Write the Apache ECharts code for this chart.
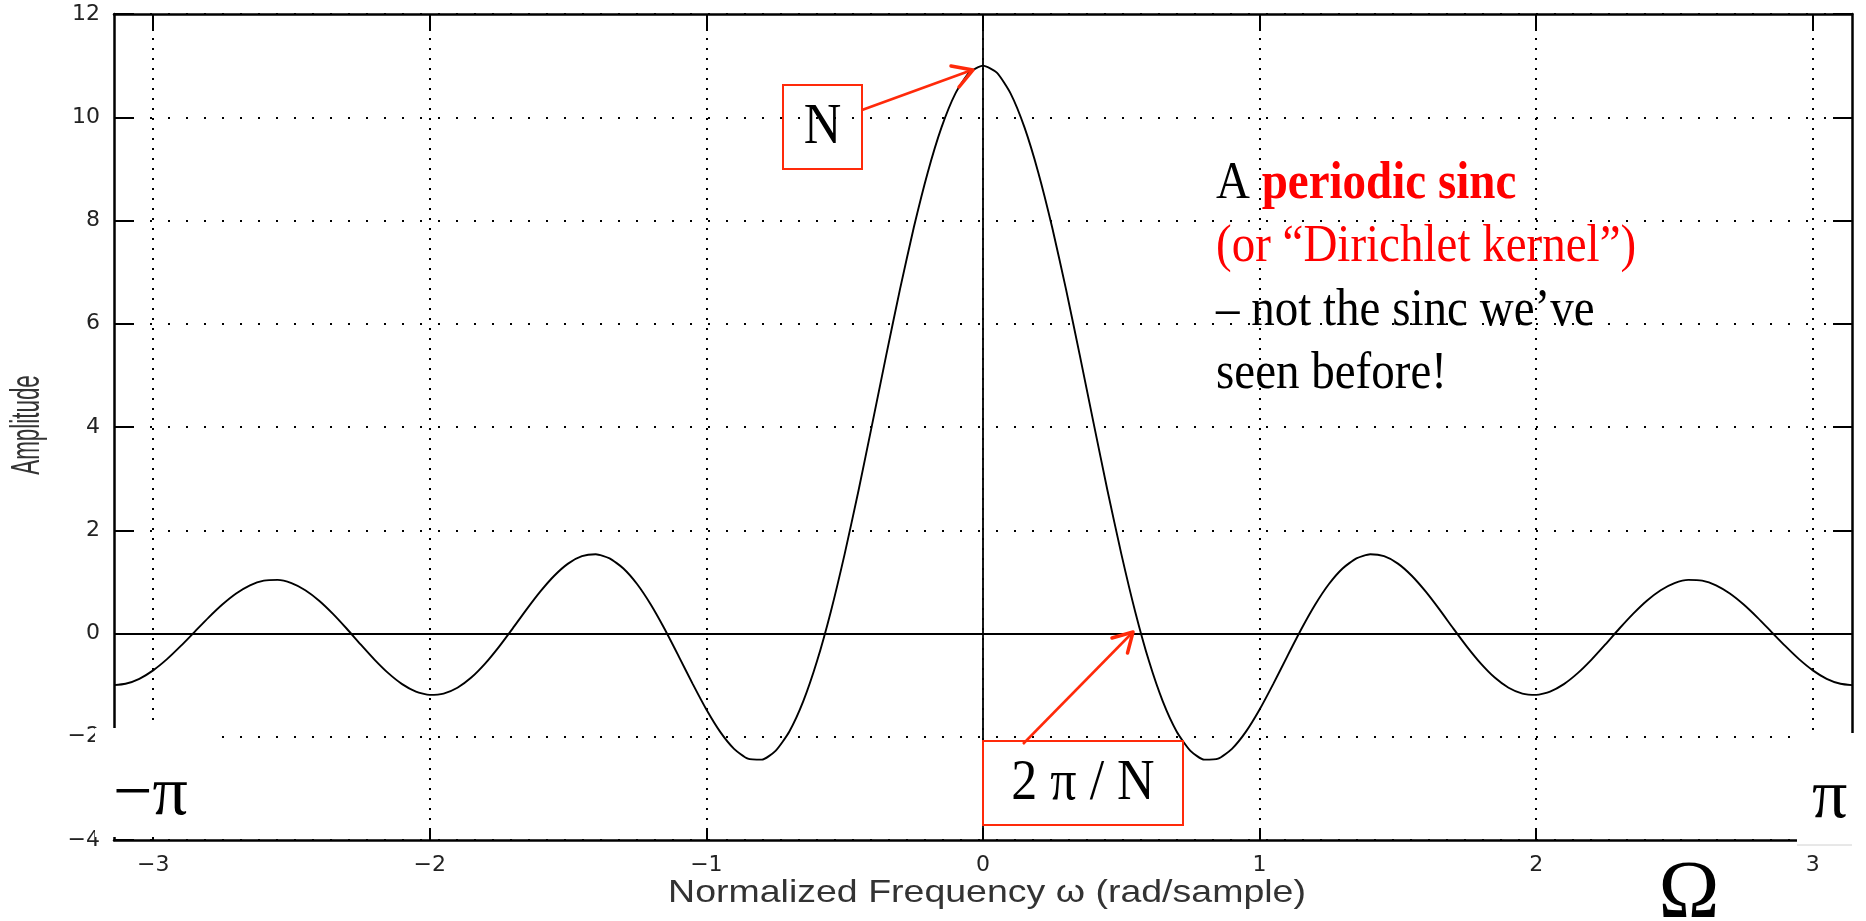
<!DOCTYPE html>
<html>
<head>
<meta charset="utf-8">
<script src="https://cdn.jsdelivr.net/npm/echarts@6/dist/echarts.min.js"></script>
<style>
html,body{margin:0;padding:0;background:#fff;}
#chart{width:1866px;height:921px;}
</style>
</head>
<body>
<div id="chart"></div>
<script>
// Normalized frequency (rad/sample)
const omega = [
  -3.1416,-3.10,-3.05,-3.00,-2.95,-2.90,-2.85,-2.80,-2.75,-2.70,-2.65,-2.60,-2.55,-2.50,-2.45,-2.40,-2.35,-2.30,-2.25,-2.20,
  -2.15,-2.10,-2.05,-2.00,-1.95,-1.90,-1.85,-1.80,-1.75,-1.70,-1.65,-1.60,-1.55,-1.50,-1.45,-1.40,-1.35,-1.30,-1.25,-1.20,
  -1.15,-1.10,-1.05,-1.00,-0.95,-0.90,-0.85,-0.80,-0.75,-0.70,-0.65,-0.60,-0.55,-0.50,-0.45,-0.40,-0.35,-0.30,-0.25,-0.20,
  -0.15,-0.10,-0.05,0.00,
  0.05,0.10,0.15,0.20,0.25,0.30,0.35,0.40,0.45,0.50,0.55,0.60,0.65,0.70,0.75,0.80,0.85,0.90,0.95,1.00,
  1.05,1.10,1.15,1.20,1.25,1.30,1.35,1.40,1.45,1.50,1.55,1.60,1.65,1.70,1.75,1.80,1.85,1.90,1.95,2.00,
  2.05,2.10,2.15,2.20,2.25,2.30,2.35,2.40,2.45,2.50,2.55,2.60,2.65,2.70,2.75,2.80,2.85,2.90,2.95,3.00,
  3.05,3.10,3.1416
];
// Amplitude values
const amplitude = [
  -1.000,-0.974,-0.877,-0.714,-0.497,-0.241,0.033,0.308,0.561,0.775,0.934,1.024,1.039,0.976,0.838,0.635,0.380,0.092,-0.211,-0.505,
  -0.768,-0.980,-1.125,-1.188,-1.164,-1.051,-0.854,-0.584,-0.259,0.099,0.467,0.815,1.119,1.354,1.497,1.534,1.455,1.260,0.954,0.552,
  0.077,-0.442,-0.971,-1.472,-1.906,-2.234,-2.424,-2.444,-2.273,-1.897,-1.315,-0.534,0.428,1.543,2.771,4.070,5.387,6.671,7.868,8.927,
  9.803,10.458,10.863,11.000,
  10.863,10.458,9.803,8.927,7.868,6.671,5.387,4.070,2.771,1.543,0.428,-0.534,-1.315,-1.897,-2.273,-2.444,-2.424,-2.234,-1.906,-1.472,
  -0.971,-0.442,0.077,0.552,0.954,1.260,1.455,1.534,1.497,1.354,1.119,0.815,0.467,0.099,-0.259,-0.584,-0.854,-1.051,-1.164,-1.188,
  -1.125,-0.980,-0.768,-0.505,-0.211,0.092,0.380,0.635,0.838,0.976,1.039,1.024,0.934,0.775,0.561,0.308,0.033,-0.241,-0.497,-0.714,
  -0.877,-0.974,-1.000
];
const xTicks = [-3, -2, -1, 0, 1, 2, 3];
const yTicks = [-4, -2, 0, 2, 4, 6, 8, 10, 12];
const xRange = [-3.1416, 3.1416];
const yRange = [-4, 12];

const minus = v => String(v).replace('-', '\u2212');
const tickFont = {fontFamily: 'DejaVu Sans', fontSize: 22, color: '#222'};
const red = '#ff2a0a';

const chart = echarts.init(document.getElementById('chart'), null, {renderer: 'canvas'});

const dotV = {type: [2, 8], width: 2, color: '#000'};
const solid = {type: 'solid', width: 1.8, color: '#000'};

const option = {
  animation: false,
  backgroundColor: '#fff',
  grid: {left: 114, right: 14, top: 14, bottom: 81, outerBoundsMode: 'none', containLabel: false},
  xAxis: [
    {
      type: 'value', position: 'bottom', min: xRange[0], max: xRange[1],
      axisLine: {show: true, onZero: false, lineStyle: {color: '#000', width: 2.5}},
      axisTick: {show: true, inside: true, length: 12, customValues: xTicks, lineStyle: {color: '#000', width: 2}},
      axisLabel: {show: true, customValues: xTicks, margin: 14, formatter: minus, ...tickFont},
      splitLine: {show: false}
    },
    {
      type: 'value', position: 'top', min: xRange[0], max: xRange[1],
      axisLine: {show: true, onZero: false, lineStyle: {color: '#000', width: 2.5}},
      axisTick: {show: true, inside: true, length: 17, customValues: xTicks, lineStyle: {color: '#000', width: 2}},
      axisLabel: {show: false},
      splitLine: {show: false}
    }
  ],
  yAxis: [
    {
      type: 'value', position: 'left', min: yRange[0], max: yRange[1], interval: 2,
      axisLine: {show: true, onZero: false, lineStyle: {color: '#000', width: 2.5}},
      axisTick: {show: true, inside: true, length: 20, lineStyle: {color: '#000', width: 2}},
      axisLabel: {show: true, margin: 14, formatter: minus, ...tickFont},
      splitLine: {show: true, lineStyle: {color: '#000', width: 2, type: [2, 16]}}
    },
    {
      type: 'value', position: 'right', min: yRange[0], max: yRange[1], interval: 2,
      axisLine: {show: true, onZero: false, lineStyle: {color: '#000', width: 2.5}},
      axisTick: {show: true, inside: true, length: 19, lineStyle: {color: '#000', width: 2}},
      axisLabel: {show: false},
      splitLine: {show: false}
    }
  ],
  series: [
    {
      name: 'grid',
      type: 'line',
      data: [],
      xAxisIndex: 0, yAxisIndex: 0,
      z: 1,
      markLine: {
        silent: true, symbol: 'none', animation: false,
        label: {show: false},
        data: xTicks.map(v => ({xAxis: v, lineStyle: dotV}))
          .concat([{xAxis: 0, lineStyle: solid}, {yAxis: 0, lineStyle: solid}])
      }
    },
    {
      name: 'Amplitude',
      type: 'line',
      xAxisIndex: 0, yAxisIndex: 0,
      z: 5,
      data: omega.map((w, i) => [w, amplitude[i]]),
      showSymbol: false,
      smooth: 0.2,
      lineStyle: {color: '#000', width: 1.9}
    }
  ],
  graphic: [
    // white patches from the slide
    {type: 'rect', z: 100, shape: {x: 95, y: 728, width: 122, height: 109}, style: {fill: '#fff'}},
    {type: 'rect', z: 100, shape: {x: 1797, y: 733, width: 69, height: 110}, style: {fill: '#fff'}},
    {type: 'line', z: 100, shape: {x1: 1797, y1: 845, x2: 1852, y2: 845}, style: {stroke: '#d0d0d0', lineWidth: 1}},
    {type: 'text', z: 101, x: 113, y: 796, style: {text: '\u2212\u03c0', font: '70px "Liberation Serif"', fill: '#000', align: 'left', verticalAlign: 'middle'}},
    {type: 'text', z: 101, x: 1812, y: 799, style: {text: '\u03c0', font: '70px "Liberation Serif"', fill: '#000', align: 'left', verticalAlign: 'middle'}},
    {type: 'text', z: 101, x: 1689, y: 895, style: {text: '\u03a9', font: '82px "Liberation Serif"', fill: '#000', align: 'center', verticalAlign: 'middle'}},
    // axis titles
    {type: 'text', z: 101, x: 28, y: 425, rotation: Math.PI / 2, scaleX: 0.56, scaleY: 1,
      style: {text: 'Amplitude', font: '40px "Liberation Sans"', fill: '#333', align: 'center', verticalAlign: 'middle'}},
    {type: 'text', z: 101, x: 987, y: 893, scaleX: 1.25, scaleY: 1.05,
      style: {text: 'Normalized Frequency \u03c9 (rad/sample)', font: '30px "Liberation Sans"', fill: '#333', align: 'center', verticalAlign: 'middle'}},
    // N annotation
    {type: 'rect', z: 101, shape: {x: 783, y: 85, width: 79, height: 84}, style: {fill: 'none', stroke: red, lineWidth: 2}},
    {type: 'text', z: 102, x: 822.5, y: 128, scaleY: 1.08,
      style: {text: 'N', font: '52px "Liberation Serif"', fill: '#000', align: 'center', verticalAlign: 'middle'}},
    {type: 'line', z: 101, shape: {x1: 862, y1: 110, x2: 972, y2: 70}, style: {stroke: red, lineWidth: 2.5}},
    {type: 'polyline', z: 101, shape: {points: [[951, 66], [973, 70], [959, 87]]}, style: {stroke: red, lineWidth: 3.5, fill: 'none', lineJoin: 'round', lineCap: 'round'}},
    // 2pi/N annotation
    {type: 'rect', z: 101, shape: {x: 983, y: 741, width: 200, height: 84}, style: {fill: 'none', stroke: red, lineWidth: 2}},
    {type: 'text', z: 102, x: 1083, y: 784, scaleY: 1.08,
      style: {text: '2 \u03c0 / N', font: '52px "Liberation Serif"', fill: '#000', align: 'center', verticalAlign: 'middle'}},
    {type: 'line', z: 101, shape: {x1: 1023, y1: 744, x2: 1132, y2: 633}, style: {stroke: red, lineWidth: 2.5}},
    {type: 'polyline', z: 101, shape: {points: [[1112, 638], [1133, 632], [1127.5, 653]]}, style: {stroke: red, lineWidth: 3.5, fill: 'none', lineJoin: 'round', lineCap: 'round'}},
    // description text
    {type: 'text', z: 102, x: 1216, y: 184, scaleY: 1.12, style: {
      text: '{a|A }{b|periodic sinc}', verticalAlign: 'middle', align: 'left',
      rich: {
        a: {font: '47px "Liberation Serif"', fill: '#000'},
        b: {font: 'bold 47px "Liberation Serif"', fill: '#ff0000'}
      }}},
    {type: 'text', z: 102, x: 1216, y: 247, scaleY: 1.12, style: {text: '(or \u201cDirichlet kernel\u201d)', font: '47px "Liberation Serif"', fill: '#ff0000', align: 'left', verticalAlign: 'middle'}},
    {type: 'text', z: 102, x: 1216, y: 311, scaleY: 1.12, style: {text: '\u2013 not the sinc we\u2019ve', font: '47px "Liberation Serif"', fill: '#000', align: 'left', verticalAlign: 'middle'}},
    {type: 'text', z: 102, x: 1216, y: 374, scaleY: 1.12, style: {text: 'seen before!', font: '47px "Liberation Serif"', fill: '#000', align: 'left', verticalAlign: 'middle'}}
  ]
};
chart.setOption(option);
</script>
</body>
</html>
